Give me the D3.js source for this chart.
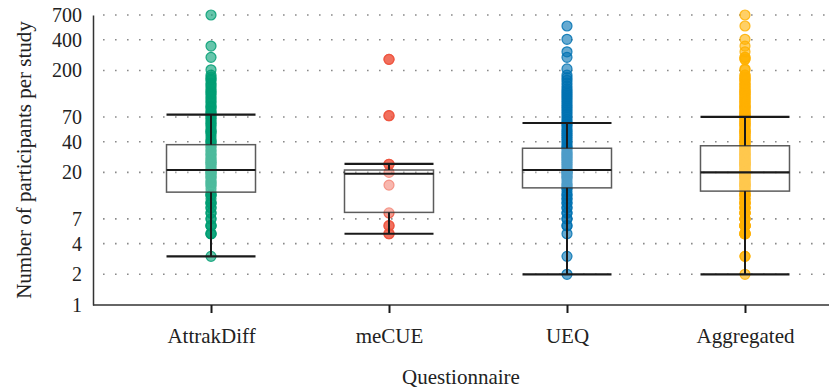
<!DOCTYPE html>
<html>
<head>
<meta charset="utf-8">
<script src="https://cdn.jsdelivr.net/npm/d3@7"></script>
<style>
  body { margin: 0; background: #fff; }
  svg { display: block; font-family: "Liberation Serif", "DejaVu Serif", serif; }
</style>
</head>
<body>
<div id="chart"></div>
<script>
// questionnaires and their colours
var questionnaires = ["AttrakDiff", "meCUE", "UEQ", "Aggregated"];
var colors = ["#009E73", "#EF5540", "#0072B2", "#FFB000"];

// participants per study, read from the strip points
var attrakdiff = [3, 5, 5, 5, 6, 6, 6, 7, 7, 8, 8, 9, 9, 10, 10, 10, 11, 12, 12, 12, 13, 14, 15, 15,
    16, 16, 17, 18, 18, 19, 20, 20, 20, 21, 22, 23, 24, 25, 25, 26, 27, 28, 30, 30, 32, 33, 35, 36,
    38, 40, 40, 42, 45, 48, 50, 50, 52, 55, 58, 60, 62, 65, 68, 70, 73, 75, 78, 80, 85, 88, 90, 96,
    100, 105, 110, 116, 120, 125, 130, 138, 144, 150, 160, 165, 172, 180, 203, 269, 347, 700];
var mecue = [5, 5, 6, 6, 8, 15, 20, 24, 24, 72, 72, 257, 257];
var ueq = [2, 3, 5, 6, 6, 7, 7, 8, 8, 9, 9, 10, 10, 11, 11, 12, 12, 13, 14, 14, 15, 15, 16, 17, 18,
    18, 19, 20, 20, 20, 21, 22, 23, 24, 25, 26, 27, 28, 29, 30, 31, 32, 34, 35, 36, 38, 40, 42, 44,
    46, 48, 50, 52, 55, 58, 60, 63, 66, 70, 74, 78, 82, 86, 90, 95, 100, 105, 110, 115, 120, 126,
    132, 140, 150, 160, 170, 180, 207, 269, 305, 404, 546];
var aggregated = attrakdiff.concat(mecue, ueq);

// box plot statistics
var whiskerLow = [3, 5, 2, 2];
var q1 = [12.8, 8.1, 14.1, 13.1];
var median = [21.1, 19.4, 21.1, 20];
var q3 = [37.4, 21.1, 34.5, 36.5];
var whiskerHigh = [73.6, 24.2, 61, 70];

var yTicks = [1, 2, 4, 7, 20, 40, 70, 200, 400, 700];

var width = 829, height = 392;
var margin = { top: 15, left: 93, bottom: 87 };
var plotBottom = height - margin.bottom;

var svg = d3.select("#chart")
    .append("svg")
    .attr("width", width)
    .attr("height", height);

var y = d3.scaleLog()
    .domain([1, 700])
    .range([plotBottom, margin.top]);

var x = d3.scalePoint()
    .domain(questionnaires)
    .range([margin.left, 863])
    .padding(0.663);

var boxHalf = 44.5;

// dotted grid lines
svg.append("g")
    .selectAll("line")
    .data(yTicks.slice(1))
    .enter().append("line")
    .attr("x1", margin.left + 10)
    .attr("x2", width)
    .attr("y1", function (d) { return y(d); })
    .attr("y2", function (d) { return y(d); })
    .attr("stroke", "#8a8a8a")
    .attr("stroke-width", 1.6)
    .attr("stroke-dasharray", "1.6,10.4");

// points
var series = [attrakdiff, mecue, ueq, aggregated];
series.forEach(function (values, i) {
    svg.append("g")
        .selectAll("circle")
        .data(values)
        .enter().append("circle")
        .attr("cx", x(questionnaires[i]))
        .attr("cy", function (d) { return y(d); })
        .attr("r", 5)
        .attr("fill", colors[i])
        .attr("fill-opacity", 0.6)
        .attr("stroke", colors[i])
        .attr("stroke-opacity", 0.85)
        .attr("stroke-width", 1.2);
});

// boxes
var boxes = questionnaires.map(function (q, i) {
    return { q: q, lo: whiskerLow[i], q1: q1[i], med: median[i], q3: q3[i], hi: whiskerHigh[i] };
});

var g = svg.append("g");

g.selectAll(".box")
    .data(boxes)
    .enter().append("rect")
    .attr("class", "box")
    .attr("x", function (d) { return x(d.q) - boxHalf; })
    .attr("width", boxHalf * 2)
    .attr("y", function (d) { return y(d.q3); })
    .attr("height", function (d) { return y(d.q1) - y(d.q3); })
    .attr("fill", "#fff")
    .attr("fill-opacity", 0.3)
    .attr("stroke", "#333")
    .attr("stroke-opacity", 0.8)
    .attr("stroke-width", 1.5);

// whisker stems
g.selectAll(".stem-lo")
    .data(boxes)
    .enter().append("line")
    .attr("x1", function (d) { return x(d.q); })
    .attr("x2", function (d) { return x(d.q); })
    .attr("y1", function (d) { return y(d.q1); })
    .attr("y2", function (d) { return y(d.lo); })
    .attr("stroke", "#1a1a1a")
    .attr("stroke-width", 2);

g.selectAll(".stem-hi")
    .data(boxes)
    .enter().append("line")
    .attr("x1", function (d) { return x(d.q); })
    .attr("x2", function (d) { return x(d.q); })
    .attr("y1", function (d) { return y(d.q3); })
    .attr("y2", function (d) { return y(d.hi); })
    .attr("stroke", "#1a1a1a")
    .attr("stroke-width", 2);

// caps and median
["lo", "hi", "med"].forEach(function (key) {
    g.selectAll(".h-" + key)
        .data(boxes)
        .enter().append("line")
        .attr("x1", function (d) { return x(d.q) - boxHalf; })
        .attr("x2", function (d) { return x(d.q) + boxHalf; })
        .attr("y1", function (d) { return y(d[key]); })
        .attr("y2", function (d) { return y(d[key]); })
        .attr("stroke", "#1a1a1a")
        .attr("stroke-width", 2.2);
});

// y axis
var yAxis = svg.append("g")
    .attr("transform", "translate(" + margin.left + ",0)")
    .call(d3.axisLeft(y).tickValues(yTicks).tickFormat(d3.format("d")).tickSize(0).tickPadding(11));
yAxis.select(".domain").attr("stroke", "#333").attr("stroke-width", 1.5);
yAxis.selectAll("text")
    .attr("font-size", 20)
    .attr("fill", "#222")
    .style("font-family", "Liberation Serif, serif");

// x axis
var xAxis = svg.append("g")
    .attr("transform", "translate(0," + plotBottom + ")")
    .call(d3.axisBottom(x).tickSize(8).tickSizeOuter(0).tickPadding(15));
xAxis.select(".domain").attr("d", "M" + margin.left + ",0H" + width)
    .attr("stroke", "#333").attr("stroke-width", 1.5);
xAxis.selectAll(".tick line").attr("stroke", "#1a1a1a").attr("stroke-width", 2);
xAxis.selectAll("text")
    .attr("font-size", 21)
    .attr("fill", "#222")
    .style("font-family", "Liberation Serif, serif");

// axis titles
svg.append("text")
    .attr("transform", "translate(31," + ((margin.top + plotBottom) / 2) + ") rotate(-90)")
    .attr("text-anchor", "middle")
    .attr("font-size", 21)
    .attr("fill", "#222")
    .text("Number of participants per study");

svg.append("text")
    .attr("x", 461)
    .attr("y", 384)
    .attr("text-anchor", "middle")
    .attr("font-size", 21)
    .attr("fill", "#222")
    .text("Questionnaire");
</script>
</body>
</html>
